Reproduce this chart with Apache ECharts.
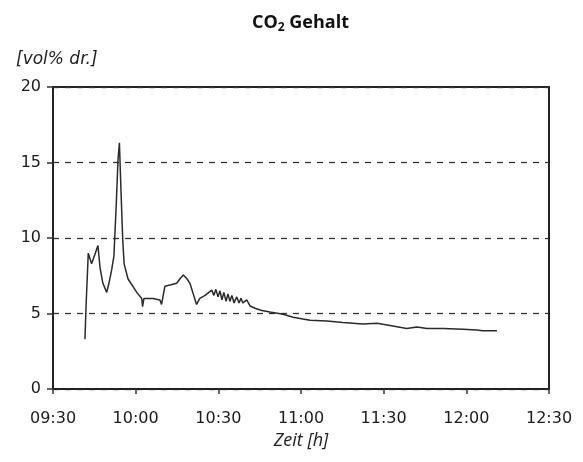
<!DOCTYPE html>
<html>
<head>
<meta charset="utf-8">
<script src="https://cdn.jsdelivr.net/npm/echarts@6/dist/echarts.min.js"></script>
<style>
  html, body { margin: 0; padding: 0; background: #fff; }
  #chart { width: 583px; height: 462px; }
</style>
</head>
<body>
<div id="chart"></div>
<script>
// CO2 content of the dry flue gas over the measuring period
const times = [
  "09:41:36", "09:42:00", "09:42:48", "09:44:00", "09:45:12", "09:46:18", "09:47:06",
  "09:48:06", "09:49:30", "09:50:18", "09:51:18", "09:52:06", "09:52:54", "09:53:36",
  "09:54:06", "09:54:42", "09:55:18", "09:55:48", "09:57:12", "09:57:54", "10:00:24",
  "10:02:12", "10:02:30", "10:03:00", "10:04:00", "10:06:18", "10:08:48", "10:09:24",
  "10:10:36", "10:12:48", "10:14:54", "10:16:06", "10:17:18", "10:18:36", "10:19:42",
  "10:20:48", "10:22:06", "10:23:18", "10:25:12", "10:27:36", "10:28:24", "10:29:06",
  "10:29:54", "10:30:36", "10:31:18", "10:32:00", "10:32:48", "10:33:30", "10:34:12",
  "10:34:54", "10:35:42", "10:36:42", "10:37:30", "10:38:12", "10:38:54", "10:40:18",
  "10:41:30", "10:43:18", "10:45:48", "10:48:42", "10:53:30", "10:57:06", "11:03:18",
  "11:09:24", "11:15:12", "11:22:30", "11:27:36", "11:32:18", "11:38:24", "11:42:06",
  "11:45:42", "11:51:30", "11:58:48", "12:03:48", "12:06:00", "12:11:06"
];
const co2 = [
  3.3, 5.5, 9.0, 8.3, 8.9, 9.5, 8.0,
  7.0, 6.4, 7.0, 7.9, 8.8, 12.0, 15.2,
  16.3, 13.0, 9.9, 8.3, 7.3, 7.2, 6.4,
  6.0, 5.45, 6.0, 6.0, 6.0, 5.9, 5.6,
  6.8, 6.9, 7.0, 7.3, 7.55, 7.3, 7.0,
  6.35, 5.6, 6.0, 6.2, 6.55, 6.2, 6.6,
  6.1, 6.5, 5.9, 6.4, 5.8, 6.3, 5.8,
  6.2, 5.7, 6.1, 5.7, 6.0, 5.7, 5.9,
  5.5, 5.35, 5.2, 5.1, 4.95, 4.75, 4.55,
  4.5, 4.4, 4.3, 4.35, 4.2, 4.0, 4.1,
  4.0, 4.0, 3.95, 3.9, 3.85, 3.85
];
const xTickLabels = ["09:30", "10:00", "10:30", "11:00", "11:30", "12:00", "12:30"];
const yTicks = [0, 5, 10, 15, 20];

// clock string -> minutes since midnight
function toMinutes(t) {
  const p = t.split(":").map(Number);
  return p[0] * 60 + p[1] + (p[2] || 0) / 60;
}
const xMin = toMinutes(xTickLabels[0]);
const xMax = toMinutes(xTickLabels[xTickLabels.length - 1]);
const seriesData = times.map((t, i) => [toMinutes(t), co2[i]]);

const chart = echarts.init(document.getElementById("chart"), null, { renderer: "canvas" });
chart.setOption({
  backgroundColor: "#ffffff",
  animation: false,
  title: {
    text: "{a|CO}{b|2}{a| Gehalt}",
    left: 247,
    top: 6,
    textStyle: {
      rich: {
        a: { fontFamily: "Open Sans", fontWeight: "bold", fontSize: 18, color: "#111" },
        b: { fontFamily: "Open Sans", fontWeight: "bold", fontSize: 12, color: "#111", padding: [11, 0, 0, 0] }
      }
    }
  },
  graphic: [{
    type: "text",
    left: 16,
    top: 51,
    style: {
      text: "[vol% dr.]",
      font: "italic 17px 'DejaVu Sans'",
      fill: "#222"
    }
  }],
  grid: { left: 53, right: 34, top: 87, bottom: 73, show: true, borderColor: "#222", borderWidth: 2 },
  xAxis: {
    type: "value",
    min: xMin,
    max: xMax,
    interval: 30,
    name: "Zeit [h]",
    nameLocation: "middle",
    nameGap: 43,
    nameTextStyle: { fontFamily: "Open Sans", fontStyle: "italic", fontSize: 18, color: "#222" },
    axisLine: { show: true, lineStyle: { color: "#222", width: 2 } },
    axisTick: { show: true, length: 5, lineStyle: { color: "#333", width: 1.5 } },
    axisLabel: {
      fontFamily: "DejaVu Sans",
      fontSize: 16,
      color: "#1a1a1a",
      margin: 22,
      formatter: (v) => xTickLabels[Math.round((v - xMin) / 30)] || ""
    },
    splitLine: { show: false }
  },
  yAxis: {
    type: "value",
    min: yTicks[0],
    max: yTicks[yTicks.length - 1],
    interval: 5,
    axisLine: { show: true, lineStyle: { color: "#222", width: 2 } },
    axisTick: { show: true, length: 6, lineStyle: { color: "#333", width: 1.5 } },
    axisLabel: { fontFamily: "DejaVu Sans", fontSize: 16, color: "#1a1a1a", margin: 12 },
    splitLine: { show: true, lineStyle: { color: "#333", type: [6, 6], width: 1.3 } }
  },
  series: [{
    type: "line",
    data: seriesData,
    showSymbol: false,
    smooth: false,
    lineStyle: { color: "#2a2a2a", width: 1.5 }
  }]
});
</script>
</body>
</html>
